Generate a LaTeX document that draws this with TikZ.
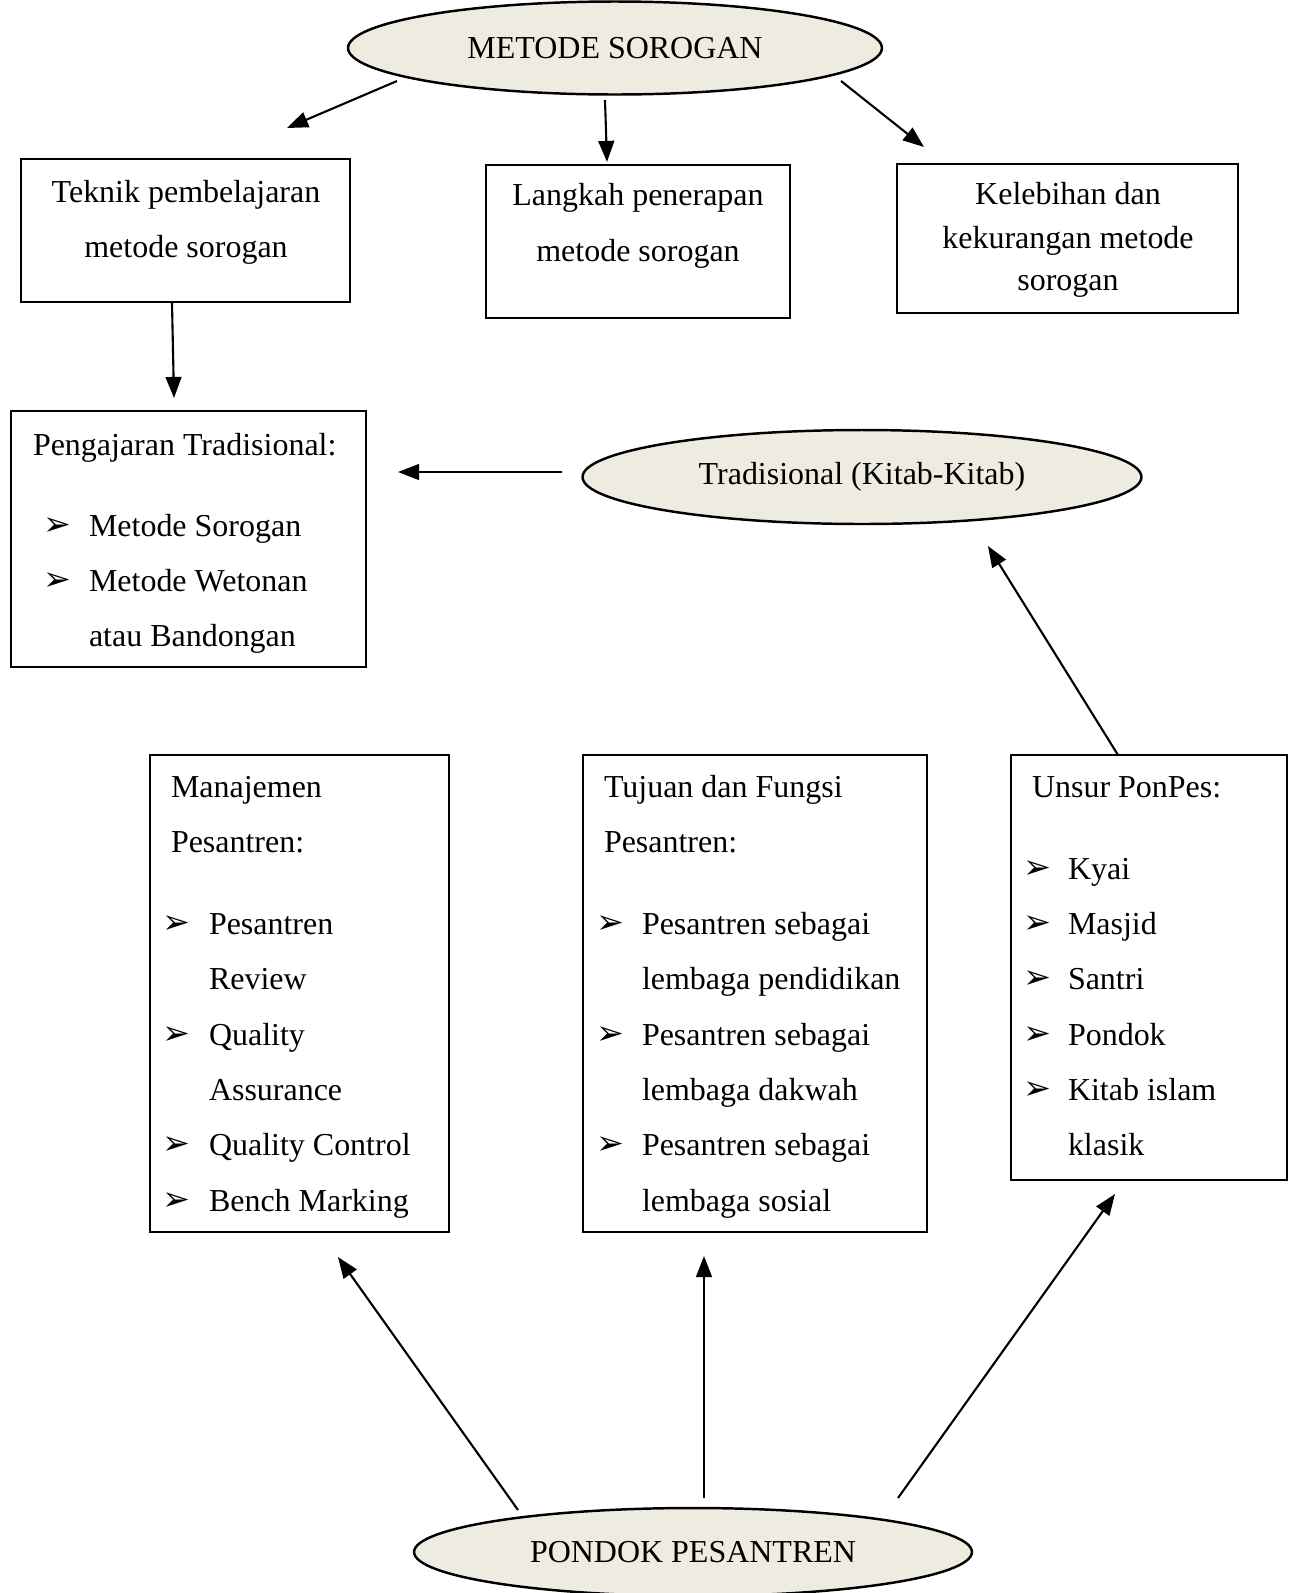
\documentclass[tikz,border=0pt]{standalone}
\usepackage{fontspec}
\setmainfont{Liberation Serif}
\newfontfamily\dingfont{DejaVu Sans}
\usetikzlibrary{shapes.geometric,arrows.meta,fit}
\definecolor{ovalfill}{HTML}{EEECE1}
\begin{document}
\begin{tikzpicture}[x=0.02cm,y=-0.02cm,
  every node/.style={font=\fontsize{18.2}{22}\selectfont, inner sep=0pt, outer sep=0pt},
  box/.style={draw, line width=1.2pt, inner sep=0pt},
  oval/.style={draw, ellipse, fill=ovalfill, line width=1.4pt, inner sep=0pt},
  arr/.style={line width=1.2pt, -{Triangle[length=12pt,width=9pt]}},
  txt/.style={anchor=base west, yshift=-2*0.02cm},
  ctr/.style={anchor=base, yshift=-2*0.02cm},
  bul/.style={anchor=base west, yshift=-1*0.02cm, font=\dingfont\fontsize{19}{20}\selectfont}]

\useasboundingbox (0,0) rectangle (1290,1593);

% ellipses
\node[oval, minimum width=10.68cm, minimum height=1.86cm] (sorogan) at (615,48) {METODE SOROGAN};
\node[oval, minimum width=11.18cm, minimum height=1.88cm] (tradisional) at (862,477) {Tradisional (Kitab-Kitab)};
\node[oval, minimum width=11.16cm, minimum height=1.76cm] (pondok) at (693,1552) {PONDOK PESANTREN};

% boxes
\node[box, fit={(21,159) (350,302)}] (teknik) {};
\node[box, fit={(486,165) (790,318)}] (langkah) {};
\node[box, fit={(897,164) (1238,313)}] (kelebihan) {};
\node[box, fit={(11,411) (366,667)}] (pengajaran) {};
\node[box, fit={(150,755) (449,1232)}] (manajemen) {};
\node[box, fit={(583,755) (927,1232)}] (tujuan) {};
\node[box, fit={(1011,755) (1287,1180)}] (unsur) {};

% texts
\node[ctr] (t1) at (186,200) {Teknik pembelajaran};
\node[ctr] (t2) at (186,255) {metode sorogan};
\node[ctr] (l1) at (638,203) {Langkah penerapan};
\node[ctr] (l2) at (638,259) {metode sorogan};
\node[ctr] (k1) at (1068,202) {Kelebihan dan};
\node[ctr] (k2) at (1068,246) {kekurangan metode};
\node[ctr] (k3) at (1068,288) {sorogan};

\node[txt] (p0) at (33,453) {Pengajaran Tradisional:};
\node[bul] (pb1) at (43,534) {➢};
\node[txt] (p1) at (89,534) {Metode Sorogan};
\node[bul] (pb2) at (43,589) {➢};
\node[txt] (p2) at (89,589) {Metode Wetonan};
\node[txt] (p3) at (89,644) {atau Bandongan};

\node[txt] (m0) at (171,795) {Manajemen};
\node[txt] (m00) at (171,850) {Pesantren:};
\node[bul] (mb1) at (162,932) {➢};
\node[txt] (m1) at (209,932) {Pesantren};
\node[txt] (m2) at (209,987) {Review};
\node[bul] (mb3) at (162,1043) {➢};
\node[txt] (m3) at (209,1043) {Quality};
\node[txt] (m4) at (209,1098) {Assurance};
\node[bul] (mb5) at (162,1153) {➢};
\node[txt] (m5) at (209,1153) {Quality Control};
\node[bul] (mb6) at (162,1209) {➢};
\node[txt] (m6) at (209,1209) {Bench Marking};

\node[txt] (j0) at (604,795) {Tujuan dan Fungsi};
\node[txt] (j00) at (604,850) {Pesantren:};
\node[bul] (jb1) at (596,932) {➢};
\node[txt] (j1) at (642,932) {Pesantren sebagai};
\node[txt] (j2) at (642,987) {lembaga pendidikan};
\node[bul] (jb3) at (596,1043) {➢};
\node[txt] (j3) at (642,1043) {Pesantren sebagai};
\node[txt] (j4) at (642,1098) {lembaga dakwah};
\node[bul] (jb5) at (596,1153) {➢};
\node[txt] (j5) at (642,1153) {Pesantren sebagai};
\node[txt] (j6) at (642,1209) {lembaga sosial};

\node[txt] (u0) at (1032,795) {Unsur PonPes:};
\node[bul] (ub1) at (1023,877) {➢};
\node[txt] (u1) at (1068,877) {Kyai};
\node[bul] (ub2) at (1023,932) {➢};
\node[txt] (u2) at (1068,932) {Masjid};
\node[bul] (ub3) at (1023,987) {➢};
\node[txt] (u3) at (1068,987) {Santri};
\node[bul] (ub4) at (1023,1043) {➢};
\node[txt] (u4) at (1068,1043) {Pondok};
\node[bul] (ub5) at (1023,1098) {➢};
\node[txt] (u5) at (1068,1098) {Kitab islam};
\node[txt] (u6) at (1068,1153) {klasik};

% connector end points
\coordinate (aS1) at (397,81);   \coordinate (aE1) at (287,128);
\coordinate (aS2) at (605,100);  \coordinate (aE2) at (607,162);
\coordinate (aS3) at (841,81);   \coordinate (aE3) at (924,147);
\coordinate (aS4) at (172,303);  \coordinate (aE4) at (174,398);
\coordinate (aS5) at (562,472);  \coordinate (aE5) at (398,472);
\coordinate (aS6) at (1118,755); \coordinate (aE6) at (988,546);
\coordinate (aS7) at (518,1510); \coordinate (aE7) at (338,1257);
\coordinate (aS8) at (704,1498); \coordinate (aE8) at (704,1256);
\coordinate (aS9) at (898,1498); \coordinate (aE9) at (1115,1194);

\draw[arr] (aS1) -- (aE1);
\draw[arr] (aS2) -- (aE2);
\draw[arr] (aS3) -- (aE3);
\draw[arr] (aS4) -- (aE4);
\draw[arr] (aS5) -- (aE5);
\draw[arr] (aS6) -- (aE6);
\draw[arr] (aS7) -- (aE7);
\draw[arr] (aS8) -- (aE8);
\draw[arr] (aS9) -- (aE9);
\end{tikzpicture}
\end{document}
